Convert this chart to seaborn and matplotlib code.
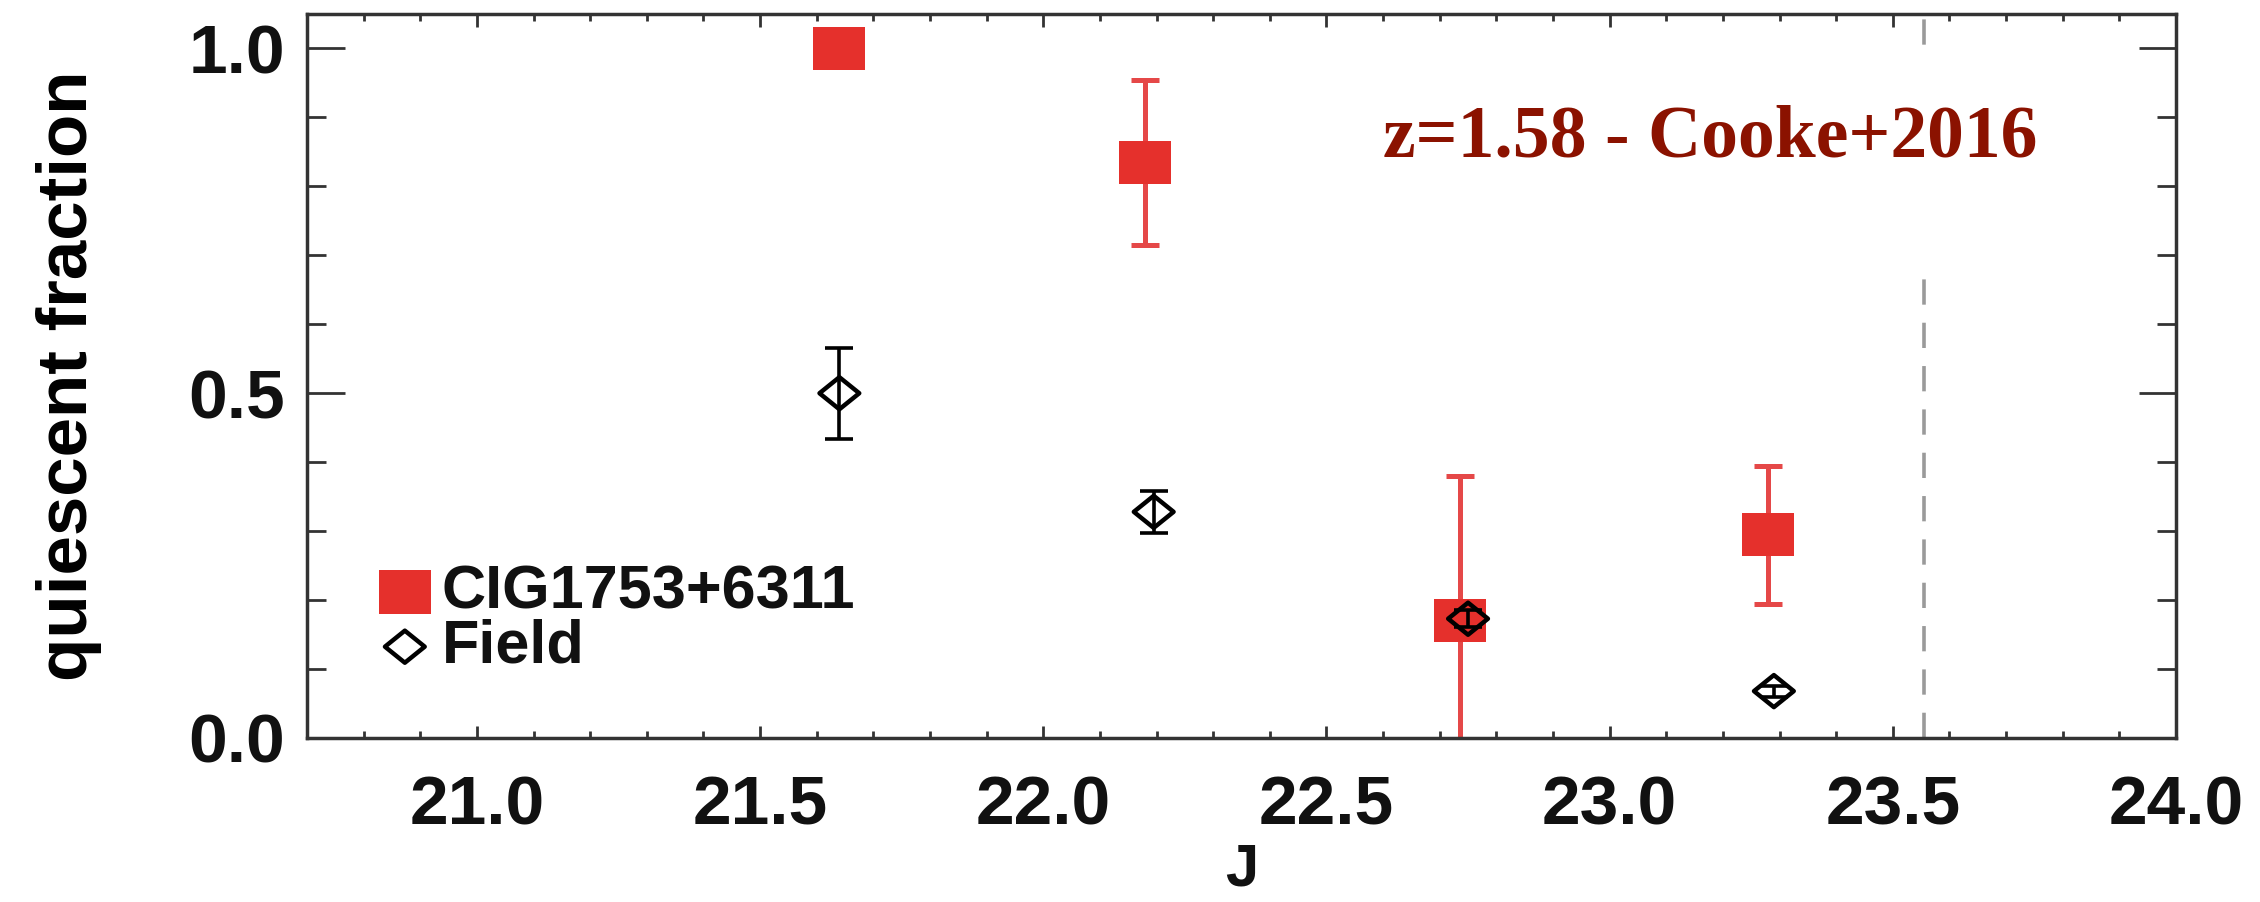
import matplotlib
matplotlib.use("Agg")
import matplotlib.pyplot as plt
import seaborn as sns
from matplotlib.path import Path
from matplotlib.patches import Rectangle
from matplotlib.ticker import MultipleLocator, FormatStrFormatter

# Quiescent fraction per J-band magnitude bin, CIG1753+6311 cluster members
cig_J = [21.64, 22.18, 22.735, 23.28]
cig_frac = [1.00, 0.835, 0.17, 0.295]
cig_err = [0.0, 0.12, 0.21, 0.10]

# Field comparison sample
field_J = [21.64, 22.195, 22.75, 23.29]
field_frac = [0.50, 0.328, 0.173, 0.068]
field_err = [0.066, 0.03, 0.012, 0.008]

# Completeness limit in J
J_limit = 23.555

series_labels = ["CIG1753+6311", "Field"]
annotation = "z=1.58 - Cooke+2016"
x_label = "J"
y_label = "quiescent fraction"

RED = "#e5302c"
RED_BAR = "#e54848"
DARK_RED = "#8b1200"
AXIS_COL = "#333333"
TEXT_COL = "#111111"

sns.set_style("ticks")
plt.rcParams["font.family"] = ["Liberation Sans", "DejaVu Sans"]
plt.rcParams["font.weight"] = "bold"
plt.rcParams["text.color"] = TEXT_COL
plt.rcParams["axes.labelcolor"] = TEXT_COL
plt.rcParams["xtick.labelcolor"] = TEXT_COL
plt.rcParams["ytick.labelcolor"] = TEXT_COL

fig = plt.figure(figsize=(22.6, 9.02), dpi=100)
ax = fig.add_axes([0.13584, 0.18182, 0.82699, 0.80266])

# slightly wide box and diamond marker shapes
rect_marker = Path([(-1.2, -1), (1.2, -1), (1.2, 1), (-1.2, 1), (-1.2, -1)],
                   [Path.MOVETO, Path.LINETO, Path.LINETO, Path.LINETO, Path.CLOSEPOLY])
diam_marker = Path([(0, 1), (1.24, 0), (0, -1), (-1.24, 0), (0, 1)],
                   [Path.MOVETO, Path.LINETO, Path.LINETO, Path.LINETO, Path.CLOSEPOLY])

# completeness limit and the white backdrop of the reference label
ax.axvline(J_limit, color="#9a9a9a", lw=2.6, ls=(0, (7, 5)), zorder=1)
ax.add_patch(Rectangle((22.55, 0.68), 1.30, 0.30, facecolor="white",
                       edgecolor="none", zorder=1.5))

# cluster error bars and markers
ax.errorbar(cig_J, cig_frac, yerr=cig_err, fmt="none", ecolor=RED_BAR,
            elinewidth=3.6, capsize=10, capthick=3.6, zorder=2)
sns.scatterplot(x=cig_J, y=cig_frac, ax=ax, marker=rect_marker, s=1400,
                color=RED, edgecolor="none", linewidth=0,
                label=series_labels[0], zorder=3)

# field error bars and markers
ax.errorbar(field_J, field_frac, yerr=field_err, fmt="none", ecolor="black",
            elinewidth=2.6, capsize=10, capthick=2.6, zorder=4)
sns.scatterplot(x=field_J, y=field_frac, ax=ax, marker=diam_marker, s=820,
                color="black", facecolor="none", edgecolor="black", linewidth=3.2,
                label=series_labels[1], zorder=5)

ax.set_xlim(20.7, 24.0)
ax.set_ylim(0.0, 1.05)
ax.xaxis.set_major_locator(MultipleLocator(0.5))
ax.xaxis.set_minor_locator(MultipleLocator(0.1))
ax.yaxis.set_major_locator(MultipleLocator(0.5))
ax.yaxis.set_minor_locator(MultipleLocator(0.1))
ax.xaxis.set_major_formatter(FormatStrFormatter("%.1f"))
ax.yaxis.set_major_formatter(FormatStrFormatter("%.1f"))

ax.tick_params(which="both", direction="in", top=True, right=True,
               width=2.0, color=AXIS_COL)
ax.tick_params(axis="x", which="major", length=9, pad=26, labelsize=50)
ax.tick_params(axis="x", which="minor", length=5)
ax.tick_params(axis="y", which="major", length=27, pad=16, labelsize=50)
ax.tick_params(axis="y", which="minor", length=14)
for lab in ax.get_xticklabels() + ax.get_yticklabels():
    lab.set_fontweight("bold")

for sp in ax.spines.values():
    sp.set_linewidth(2.5)
    sp.set_color(AXIS_COL)

ax.set_xlabel(x_label, fontsize=43, fontweight="bold", color=TEXT_COL)
ax.xaxis.set_label_coords(0.5, -0.145)
ax.set_ylabel(y_label, fontsize=51, fontweight="bold", color="black")
ax.yaxis.set_label_coords(-0.1097, 0.5)

ax.text(22.60, 0.844, annotation, ha="left", va="baseline", fontsize=53,
        family="Liberation Serif", fontweight="bold", color=DARK_RED, zorder=6)

handles, labels = ax.get_legend_handles_labels()
leg = ax.legend(handles, labels, loc="lower left", bbox_to_anchor=(0.036, 0.086),
                frameon=False, prop=dict(family="Liberation Sans", weight="bold", size=44),
                handlelength=1.0, handletextpad=0.1, labelspacing=-0.04,
                borderpad=0, borderaxespad=0, scatterpoints=1)
for t in leg.get_texts():
    t.set_color(TEXT_COL)

fig.savefig("out.png", dpi=100, facecolor="white")
